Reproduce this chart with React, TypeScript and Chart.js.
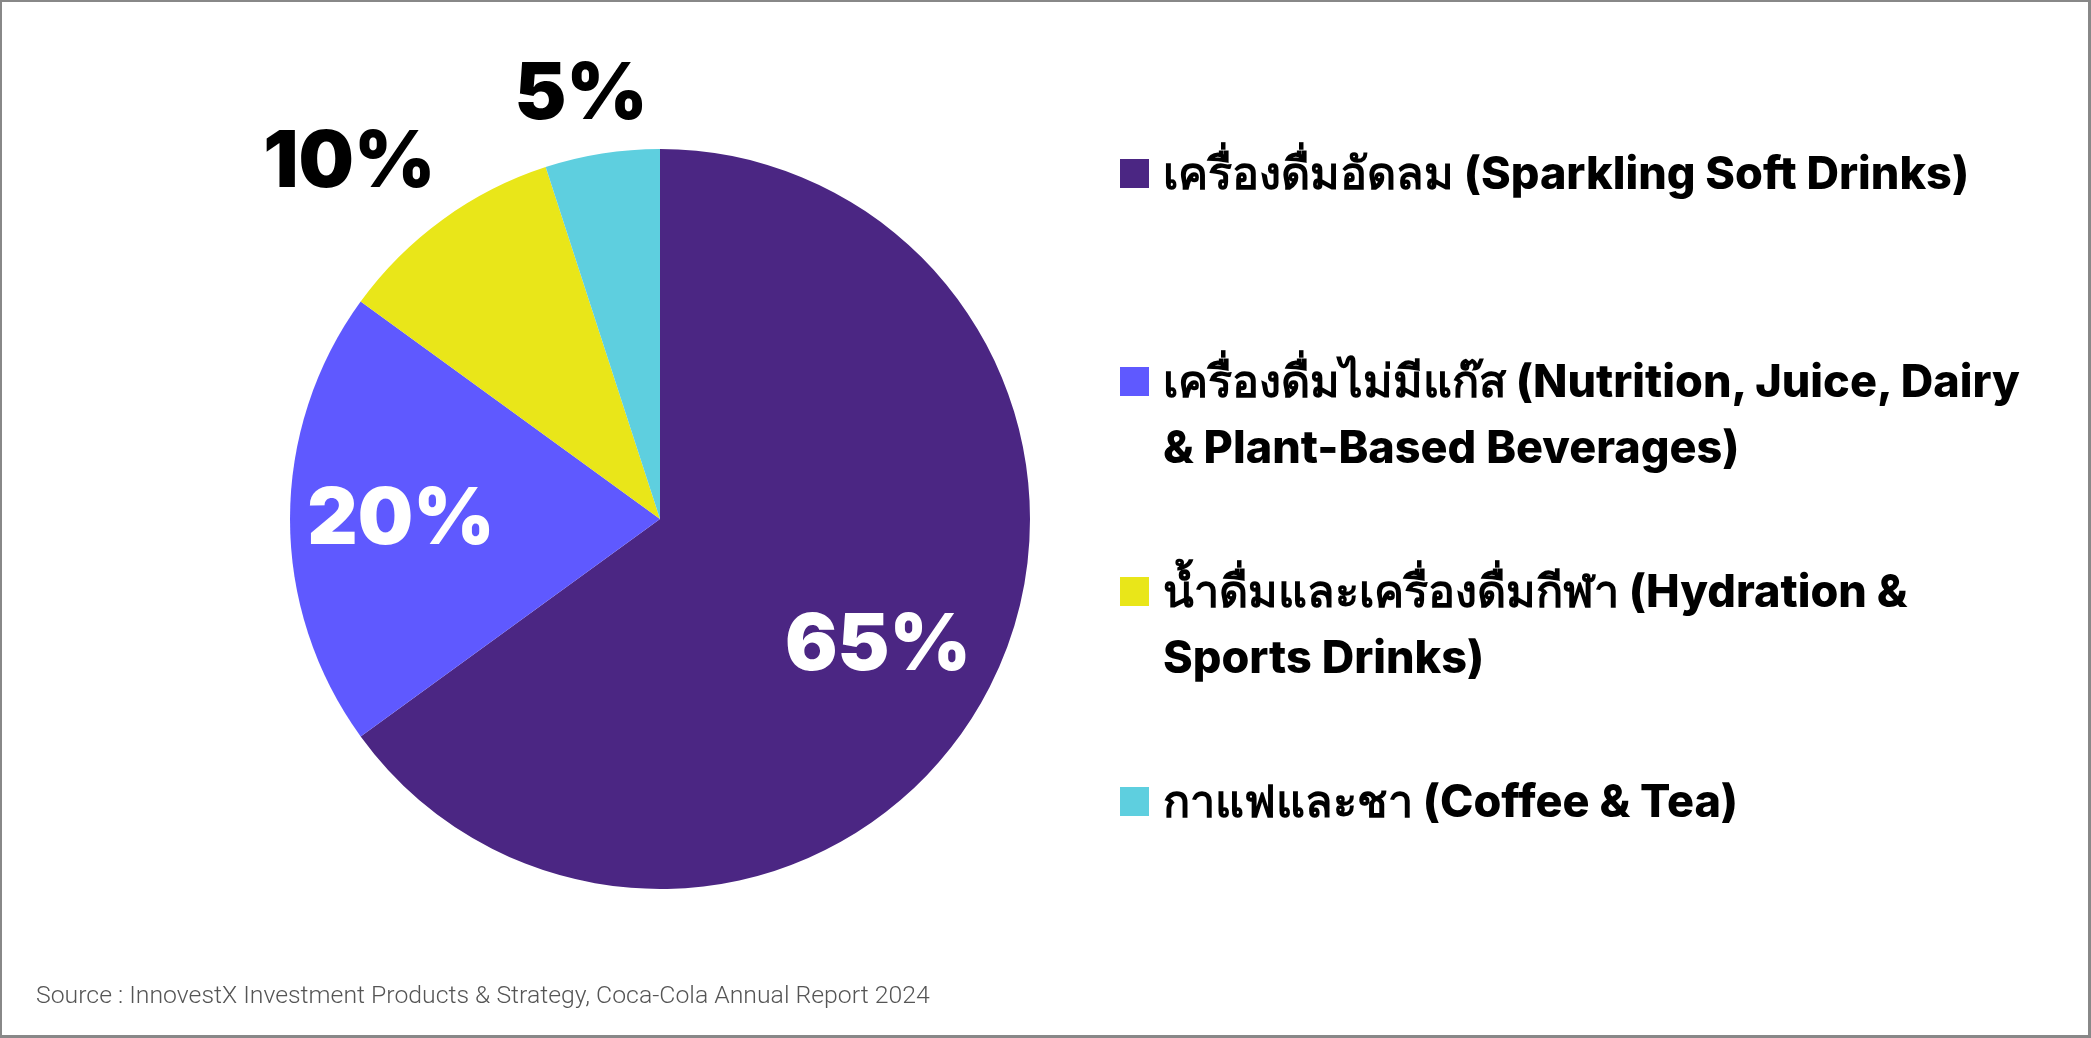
import React, { useEffect, useRef } from "react";
import { Chart, registerables } from "chart.js";

Chart.register(...registerables);

const categories = [
  "เครื่องดื่มอัดลม (Sparkling Soft Drinks)",
  "เครื่องดื่มไม่มีแก๊ส (Nutrition, Juice, Dairy & Plant-Based Beverages)",
  "น้ำดื่มและเครื่องดื่มกีฬา (Hydration & Sports Drinks)",
  "กาแฟและชา (Coffee & Tea)",
];
const legendLines = [
  ["เครื่องดื่มอัดลม (Sparkling Soft Drinks)"],
  ["เครื่องดื่มไม่มีแก๊ส (Nutrition, Juice, Dairy", "& Plant-Based Beverages)"],
  ["น้ำดื่มและเครื่องดื่มกีฬา (Hydration &", "Sports Drinks)"],
  ["กาแฟและชา (Coffee & Tea)"],
];
const shares = [65, 20, 10, 5];
const colors = ["#4b2683", "#5f59ff", "#e9e619", "#5ecfdf"];
const labelColors = ["#ffffff", "#ffffff", "#000000", "#000000"];
const sourceText =
  "Source : InnovestX Investment Products & Strategy, Coca-Cola Annual Report 2024";

const W = 2091;
const H = 1038;

const labelPlugin = {
  id: "sliceLabels",
  afterDatasetsDraw(chart: any) {
    const ctx = chart.ctx;
    const meta = chart.getDatasetMeta(0);
    const radiusFactor = [0.68, 0.70, 1.28, 1.17];
    const angleShift = [3, 0, -5, -1.5];
    ctx.save();
    ctx.font = '900 78px "Inter", "Roboto", sans-serif';
    ctx.textAlign = "center";
    ctx.textBaseline = "middle";
    meta.data.forEach((arc: any, i: number) => {
      const p = arc.getProps(["x", "y", "startAngle", "endAngle", "outerRadius"], true);
      const mid = (p.startAngle + p.endAngle) / 2 + (angleShift[i] * Math.PI) / 180;
      const r = p.outerRadius * radiusFactor[i];
      ctx.fillStyle = labelColors[i];
      ctx.fillText(`${shares[i]}%`, p.x + r * Math.cos(mid), p.y + r * Math.sin(mid) + 2);
    });
    ctx.restore();
  },
};

export default function App() {
  const ref = useRef<HTMLCanvasElement | null>(null);

  useEffect(() => {
    if (!ref.current) return;
    const chart = new Chart(ref.current, {
      type: "pie",
      data: {
        labels: categories,
        datasets: [
          {
            data: shares,
            backgroundColor: colors,
            borderWidth: 0,
          },
        ],
      },
      options: {
        animation: false,
        responsive: false,
        devicePixelRatio: 1,
        layout: { padding: { left: 290, top: 149, right: W - 1030, bottom: H - 889 } },
        plugins: {
          legend: { display: false },
          tooltip: { enabled: false },
        },
      },
      plugins: [labelPlugin],
    });
    return () => chart.destroy();
  }, []);

  const itemTops = [140, 348, 558, 768];

  return (
    <div
      style={{
        position: "absolute",
        left: 0,
        top: 0,
        width: W,
        height: H,
        background: "#ffffff",
        overflow: "hidden",
      }}
    >
      <canvas ref={ref} width={W} height={H} style={{ position: "absolute", left: 0, top: 0, width: W, height: H }} />
      {legendLines.map((lines, i) => (
        <div
          key={i}
          style={{
            position: "absolute",
            left: 1120,
            top: itemTops[i],
            fontFamily: '"Inter", "Noto Sans", sans-serif',
            fontWeight: 800,
            fontSize: 45,
            lineHeight: "66px",
            color: "#000",
            whiteSpace: "nowrap",
          }}
        >
          {lines.map((line, j) => (
            <div key={j} style={{ position: "relative", paddingLeft: 43 }}>
              {j === 0 && (
                <span
                  style={{
                    position: "absolute",
                    left: 0,
                    top: 19,
                    width: 29,
                    height: 29,
                    background: colors[i],
                  }}
                />
              )}
              {line}
            </div>
          ))}
        </div>
      ))}
      <div
        style={{
          position: "absolute",
          left: 36,
          top: 979,
          fontFamily: '"Roboto", sans-serif',
          fontWeight: 300,
          fontSize: 24.8,
          lineHeight: "32px",
          color: "#555",
          whiteSpace: "nowrap",
        }}
      >
        {sourceText}
      </div>
      <div
        style={{
          position: "absolute",
          left: 0,
          top: 0,
          width: W,
          height: H,
          boxSizing: "border-box",
          borderStyle: "solid",
          borderColor: "#888",
          borderWidth: "2px 3px 3px 2px",
          pointerEvents: "none",
        }}
      />
    </div>
  );
}
